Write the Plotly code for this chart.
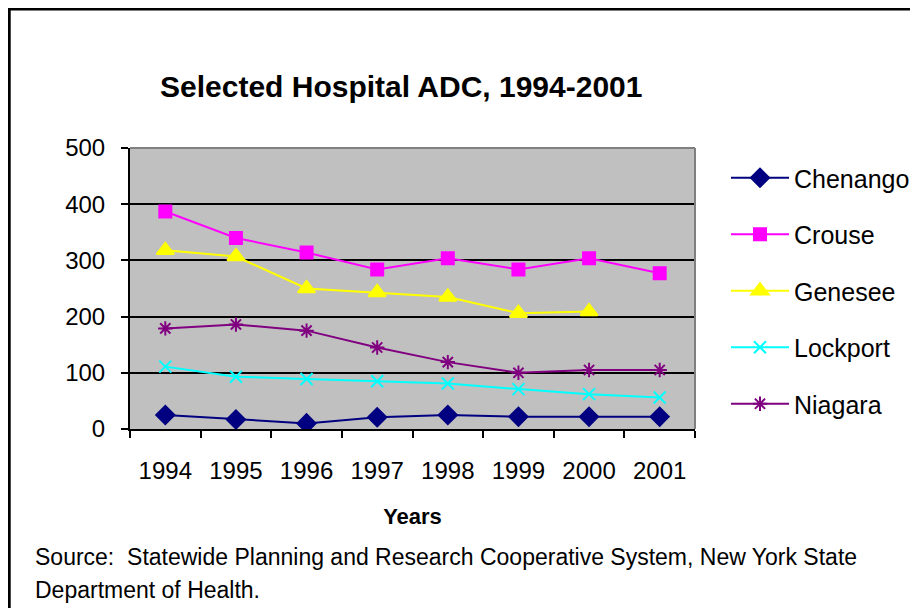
import plotly.graph_objects as go

years = ["1994", "1995", "1996", "1997", "1998", "1999", "2000", "2001"]
chenango = [25, 17, 10, 21, 25, 22, 22, 22]
crouse = [387, 340, 314, 284, 304, 284, 304, 277]
genesee = [318, 307, 250, 243, 235, 206, 209, None]
lockport = [111, 93, 89, 85, 81, 71, 62, 56]
niagara = [179, 186, 175, 145, 119, 100, 105, 105]

series = [
    ("Chenango", chenango, "#000080", "diamond", 14),
    ("Crouse", crouse, "#FF00FF", "square", 12),
    ("Genesee", genesee, "#FFFF00", "triangle-up", 15),
    ("Lockport", lockport, "#00FFFF", "x-thin-open", 12),
    ("Niagara", niagara, "#800080", "asterisk-open", 12),
]

FONT = "Liberation Sans, Arial, sans-serif"

fig = go.Figure()
for i, (name, vals, color, sym, size) in enumerate(series):
    fig.add_trace(go.Scatter(
        x=years, y=vals, name=name, mode="lines+markers",
        legendgroup=name,
        line=dict(color=color, width=2),
        marker=dict(symbol=sym, size=size, color=color,
                    line=dict(color=color, width=2)),
        connectgaps=False,
    ))

OFF = 8  # page offset of the figure in the browser
L, R, T, B = 122, 230, 140, 187
W, H = 918, 608
pw, ph = W - L - R, H - T - B

def px(sx):
    return (sx - OFF - L) / pw

def py(sy):
    return (H - B - (sy - OFF)) / ph

fig.update_layout(
    width=W, height=H,
    margin=dict(l=L, r=R, t=T, b=B),
    paper_bgcolor="white",
    plot_bgcolor="#C0C0C0",
    font=dict(family=FONT, size=24, color="black"),
    showlegend=True,
    legend=dict(
        x=px(726), y=py(155), xanchor="left", yanchor="top",
        font=dict(size=25, family=FONT),
        tracegroupgap=21,
        itemwidth=58,
        bgcolor="rgba(0,0,0,0)",
    ),
    xaxis=dict(
        type="category",
        tickson="boundaries",
        ticks="outside", ticklen=7, tickwidth=2, tickcolor="black",
        showline=True, linecolor="black", linewidth=2,
        showgrid=False,
        tickfont=dict(size=24),
        ticklabelstandoff=19,
        title=dict(text="<b>Years</b>", font=dict(size=22), standoff=26),
        range=[-0.5, 7.5],
    ),
    yaxis=dict(
        range=[0, 500],
        tickvals=[0, 100, 200, 300, 400, 500],
        ticks="outside", ticklen=7, tickwidth=2, tickcolor="black",
        showline=True, linecolor="black", linewidth=2,
        showgrid=True, gridcolor="black", gridwidth=2,
        zeroline=False,
        tickfont=dict(size=24),
        ticklabelstandoff=11,
    ),
    annotations=[
        dict(text="<b>Selected Hospital ADC, 1994-2001</b>",
             xref="paper", yref="paper", x=px(401), y=py(87),
             xanchor="center", yanchor="middle", showarrow=False,
             font=dict(size=30, family=FONT)),
        dict(text="Source:  Statewide Planning and Research Cooperative System, New York State",
             xref="paper", yref="paper", x=px(33), y=py(557),
             xanchor="left", yanchor="middle", align="left", showarrow=False,
             font=dict(size=23, family=FONT)),
        dict(text="Department of Health.",
             xref="paper", yref="paper", x=px(33), y=py(590),
             xanchor="left", yanchor="middle", align="left", showarrow=False,
             font=dict(size=23, family=FONT)),
    ],
    shapes=[
        dict(type="line", xref="paper", yref="paper", x0=0, x1=1, y0=1, y1=1,
             line=dict(color="#808080", width=2), layer="above"),
        dict(type="line", xref="paper", yref="paper", x0=1, x1=1, y0=0, y1=1,
             line=dict(color="#808080", width=2), layer="above"),
        dict(type="rect", xref="paper", yref="paper",
             x0=px(OFF + 1), x1=px(960), y0=py(OFF + 1), y1=py(700),
             line=dict(color="black", width=3), fillcolor="rgba(0,0,0,0)",
             layer="below"),
    ],
)

fig.write_html("out.html")
